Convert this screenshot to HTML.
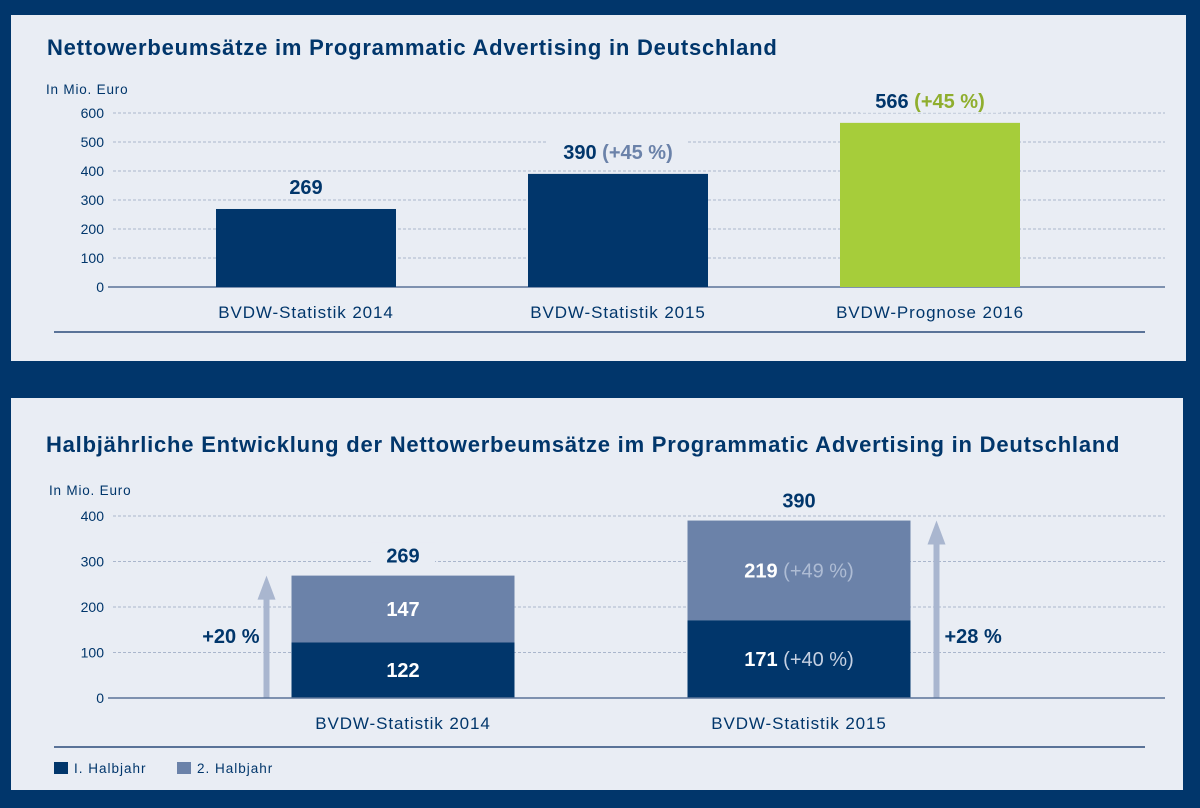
<!DOCTYPE html>
<html><head><meta charset="utf-8">
<style>
html,body{margin:0;padding:0;width:1200px;height:808px;background:#01366b;overflow:hidden;font-family:"Liberation Sans",sans-serif;}
svg{position:absolute;left:0;top:0;}
</style></head>
<body>
<svg id="c" width="1200" height="808" xmlns="http://www.w3.org/2000/svg">
<rect x="0" y="0" width="1200" height="808" fill="#01366b"/>
<rect x="11" y="15" width="1175" height="346" fill="#e9edf4"/>
<rect x="11" y="398" width="1172" height="392" fill="#e9edf4"/>
<text x="47" y="55" font-size="22" font-weight="bold" letter-spacing="0.78" fill="#01366b">Nettowerbeumsätze im Programmatic Advertising in Deutschland</text>
<text x="46" y="94" font-size="13.5" letter-spacing="0.8" fill="#01366b">In Mio. Euro</text>
<line x1="54" y1="332" x2="1145" y2="332" stroke="#5a7398" stroke-width="2"/>
<text x="46" y="452" font-size="22" font-weight="bold" letter-spacing="0.78" fill="#01366b">Halbjährliche Entwicklung der Nettowerbeumsätze im Programmatic Advertising in Deutschland</text>
<text x="49" y="495" font-size="13.5" letter-spacing="0.8" fill="#01366b">In Mio. Euro</text>
<line x1="54" y1="747" x2="1145" y2="747" stroke="#5a7398" stroke-width="2"/>
<rect x="54" y="762" width="14" height="12" fill="#01366b"/>
<text x="74" y="773" font-size="13.5" letter-spacing="1" fill="#01366b">I. Halbjahr</text>
<rect x="177" y="762" width="14" height="12" fill="#6b82a9"/>
<text x="197" y="773" font-size="13.5" letter-spacing="1" fill="#01366b">2. Halbjahr</text>
<g id="top"></g><g id="bot"></g>
</svg>
<script>
const topCats = ["BVDW-Statistik 2014","BVDW-Statistik 2015","BVDW-Prognose 2016"];
const topValues = [269, 390, 566];
const topGrowth = ["", "(+45 %)", "(+45 %)"];
const topTicks = [0,100,200,300,400,500,600];
const botCats = ["BVDW-Statistik 2014","BVDW-Statistik 2015"];
const botH1 = [122, 171];
const botH2 = [147, 219];
const botH1Growth = ["", "(+40 %)"];
const botH2Growth = ["", "(+49 %)"];
const botTicks = [0,100,200,300,400];
const yoyGrowth = ["+20 %", "+28 %"];

const NS="http://www.w3.org/2000/svg";
const DARK="#01366b", LIGHT="#6b82a9", GREEN="#a6cd3a", BG="#e9edf4";
function mk(p,tag,attrs,txt){const e=document.createElementNS(NS,tag);for(const k in attrs)e.setAttribute(k,attrs[k]);if(txt!==undefined)e.textContent=txt;p.appendChild(e);return e;}

// top chart
const T=document.getElementById('top');
const tY=v=>287-v*(174/600);
const tX=i=>306+i*312;
const tBW=180;
topTicks.forEach(t=>{
  const lab=mk(T,'text',{x:104,y:tY(t)+5,'font-size':14,fill:DARK,'text-anchor':'end'},String(t));
  
  
  if(t>0){const g=mk(T,'line',{x1:113,x2:1165,y1:tY(t),y2:tY(t),stroke:'#aab6cc','stroke-dasharray':'3,2'});
  
  }
});
const tax=mk(T,'line',{x1:108,x2:1165,y1:287,y2:287,stroke:'#5a7398','stroke-width':1.5});


topValues.forEach((v,i)=>{
  const b=mk(T,'rect',{x:tX(i)-tBW/2,y:tY(v),width:tBW,height:287-tY(v),fill:i==2?GREEN:DARK});
  
  
  const w=topGrowth[i]?140:54;
  const m=mk(T,'rect',{x:tX(i)-w/2,y:tY(v)-37,width:w,height:27,fill:BG});
  
  
  const lt=mk(T,'text',{x:tX(i),y:tY(v)-15,'font-size':20,'font-weight':'bold',fill:DARK,'text-anchor':'middle'});
  
  
  mk(lt,'tspan',{},String(v));
  if(topGrowth[i]) mk(lt,'tspan',{fill:i==2?'#8fae2e':LIGHT},' '+topGrowth[i]);
  const c=mk(T,'text',{x:tX(i),y:318,'font-size':17,'letter-spacing':0.9,fill:DARK,'text-anchor':'middle'},topCats[i]);
  
  
});

// bottom chart
const B=document.getElementById('bot');
const bY=v=>698-v*(182/400);
const bX=i=>403+i*396;
const bBW=223;
botTicks.forEach(t=>{
  const lab=mk(B,'text',{x:104,y:bY(t)+5,'font-size':14,fill:DARK,'text-anchor':'end'},String(t));
  
  
  if(t>0){const g=mk(B,'line',{x1:113,x2:1165,y1:bY(t),y2:bY(t),stroke:'#aab6cc','stroke-dasharray':'3,2'});
  
  }
});
botH1.forEach((h1,i)=>{
  const h2=botH2[i], tot=h1+h2;
  const r1=mk(B,'rect',{x:bX(i)-bBW/2,y:bY(h1),width:bBW,height:698-bY(h1),fill:DARK});
  
  
  const r2=mk(B,'rect',{x:bX(i)-bBW/2,y:bY(tot),width:bBW,height:bY(h1)-bY(tot),fill:LIGHT});
  
  
  const l1=mk(B,'text',{x:bX(i),y:(bY(h1)+698)/2+7,'font-size':20,'font-weight':'bold',fill:'#fff','text-anchor':'middle'});
  
  
  mk(l1,'tspan',{},String(h1));
  if(botH1Growth[i]) mk(l1,'tspan',{fill:'#c5d0e2','font-weight':'normal'},' '+botH1Growth[i]);
  const l2=mk(B,'text',{x:bX(i),y:(bY(h1)+bY(tot))/2+7,'font-size':20,'font-weight':'bold',fill:'#fff','text-anchor':'middle'});
  
  
  mk(l2,'tspan',{},String(h2));
  if(botH2Growth[i]) mk(l2,'tspan',{fill:'#aebcd4','font-weight':'normal'},' '+botH2Growth[i]);
  const m=mk(B,'rect',{x:bX(i)-32,y:bY(tot)-33,width:64,height:25,fill:BG});
  
  
  const lt=mk(B,'text',{x:bX(i),y:bY(tot)-13,'font-size':20,'font-weight':'bold',fill:DARK,'text-anchor':'middle'},String(tot));
  
  
  const c=mk(B,'text',{x:bX(i),y:729,'font-size':17,'letter-spacing':0.9,fill:DARK,'text-anchor':'middle'},botCats[i]);
  
  
  const ax=i==0?bX(i)-bBW/2-25:bX(i)+bBW/2+26;
  const top=bY(tot);
  const ar=mk(B,'g',{});
  
  
  mk(ar,'rect',{x:ax-3,y:top+20,width:6,height:698-top-20,fill:'#a9b6cf'});
  mk(ar,'polygon',{points:`${ax-9},${top+24} ${ax+9},${top+24} ${ax},${top}`,fill:'#a9b6cf'});
  const gl=mk(B,'text',{x:i==0?ax-7:ax+8,y:643,'font-size':20,'font-weight':'bold',fill:DARK,'text-anchor':i==0?'end':'start'},yoyGrowth[i]);
  
  
});
const bax=mk(B,'line',{x1:108,x2:1165,y1:698,y2:698,stroke:'#5a7398','stroke-width':1.5});


</script>
</body></html>
